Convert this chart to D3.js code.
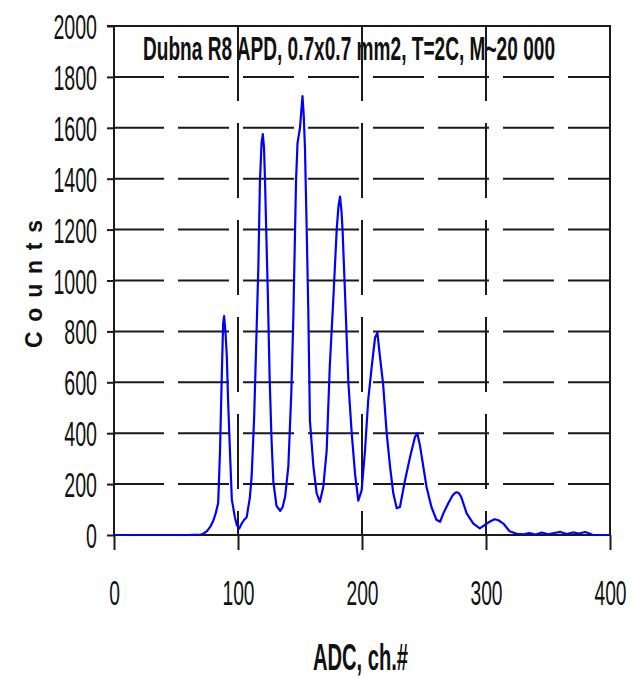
<!DOCTYPE html>
<html><head><meta charset="utf-8">
<script src="https://cdn.jsdelivr.net/npm/d3@7"></script>
<style>body{margin:0;background:#fff}svg{display:block}</style>
</head><body>
<script>
// ---- data ----
const title = "Dubna R8 APD, 0.7x0.7 mm2, T=2C, M~20 000";
const xTitle = "ADC, ch.#";
const yTitle = "Counts";
const xTicks = [0, 100, 200, 300, 400];
const yTicks = [0, 200, 400, 600, 800, 1000, 1200, 1400, 1600, 1800, 2000];
const adc = [0,10,20,30,40,50,60,70,72,75,78,80,82,84,85.5,86.8,88,88.8,90,91,92,93.5,95,97.5,99,101,103,105,107,109.5,111,113,114.5,116.4,117.7,119,120,121,121.8,123,124,125.5,127,128.5,131,134,136,138,140.6,143,144.6,146.8,148,150,152,153,154,155.4,156.7,158,160.8,163.4,166,168.8,171.5,174,176.9,179.6,181,182.3,183.5,184.4,186.3,189,191.7,194.4,197,199.7,202.4,205,207.8,210.5,212.4,214.5,217,219.9,222.6,225.2,228,230.6,234.7,238.7,242.7,244.6,246.8,249.4,252,256,260,263,265.6,269.6,273,275,276.3,278,280,284.4,289.8,295,300.6,304,307,310,314,319,324.8,330,335,340,345,350,355,360,365,370,375,380,384,386,400];
const counts = [0,0,0,0,0,0,0,2,5,15,35,55,85,125,330,600,830,860,790,700,530,330,140,70,40,25,45,60,70,145,230,460,720,1050,1390,1540,1575,1520,1390,1150,960,620,380,210,115,95,110,150,270,560,850,1390,1540,1600,1725,1650,1520,1200,880,450,270,165,130,190,330,660,930,1200,1290,1330,1270,1190,950,600,400,240,135,175,330,530,660,775,795,700,595,400,270,165,105,110,215,305,385,400,350,270,190,110,60,52,85,125,155,165,168,165,150,85,45,26,45,55,62,58,45,15,5,3,8,2,10,3,8,12,4,10,6,12,5,0,0];

// ---- layout ----
const W = 631, H = 678;
const svg = d3.select("body").append("svg").attr("width", W).attr("height", H);
const x = d3.scaleLinear().domain([0, 400]).range([114, 610]);
const y = d3.scaleLinear().domain([0, 2000]).range([535, 26]);
const ink = "#1a1a1a";

// title (under gridlines)
svg.append("text").attr("x", 143).attr("y", 60)
  .attr("font-family", "Liberation Sans, Arial, sans-serif").attr("font-weight", "bold")
  .attr("font-size", 33).attr("fill", "#111")
  .attr("textLength", 412).attr("lengthAdjust", "spacingAndGlyphs")
  .text(title);

// horizontal dashed gridlines
svg.append("g").selectAll("line").data(yTicks.filter(d => d > 0 && d < 2000)).join("line")
  .attr("x1", x(0)).attr("x2", x(400)).attr("y1", d => y(d)).attr("y2", d => y(d))
  .attr("stroke", ink).attr("stroke-width", 2).attr("stroke-dasharray", "51,14")
  .attr("stroke-dashoffset", 1);
// vertical dashed gridlines
svg.append("g").selectAll("line").data(xTicks.filter(d => d > 0 && d < 400)).join("line")
  .attr("x1", d => x(d)).attr("x2", d => x(d)).attr("y1", y(2000)).attr("y2", y(0))
  .attr("stroke", ink).attr("stroke-width", 2).attr("stroke-dasharray", "75,22");

// axes
const yAxis = d3.axisLeft(y).tickValues(yTicks).tickSize(7).tickFormat(d3.format("d"));
const gy = svg.append("g").attr("transform", `translate(${x(0)},0)`).call(yAxis);
const xAxis = d3.axisBottom(x).tickValues(xTicks).tickSize(15).tickFormat(d3.format("d"));
const gx = svg.append("g").attr("transform", `translate(0,${y(0)})`).call(xAxis);
[gx, gy].forEach(g => {
  g.select(".domain").attr("stroke", ink).attr("stroke-width", 2);
  g.selectAll(".tick line").attr("stroke", ink).attr("stroke-width", 2);
  g.selectAll(".tick text").attr("font-family", "Liberation Sans, Arial, sans-serif")
    .attr("font-size", 35).attr("fill", "#111");
});
gy.select(".domain").attr("d", `M0,${y(0)}V${y(2000)}`);
gx.select(".domain").attr("d", `M${x(0)},0H${x(400)}`);
gy.selectAll(".tick text").attr("x", null).attr("dy", null)
  .attr("text-anchor", "end")
  .attr("transform", "translate(-17,12.5) scale(0.56,1)");
gx.selectAll(".tick text").attr("y", null).attr("dy", null)
  .attr("text-anchor", "middle")
  .attr("transform", "translate(0,70) scale(0.55,1)");

// frame top and right
svg.append("path").attr("d", `M${x(0)-7},${y(2000)}H${x(400)}V${y(0)}`)
  .attr("fill", "none").attr("stroke", ink).attr("stroke-width", 2);

// curve
const pts = adc.map((a, i) => [a, counts[i]]);
svg.append("path").datum(pts)
  .attr("fill", "none").attr("stroke", "#0000ff").attr("stroke-width", 2.2)
  .attr("stroke-linejoin", "round")
  .attr("d", d3.line().x(d => x(d[0])).y(d => y(d[1])).curve(d3.curveLinear));

// axis titles
svg.append("text").attr("x", 360.5).attr("y", 670).attr("text-anchor", "middle")
  .attr("font-family", "Liberation Sans, Arial, sans-serif").attr("font-weight", "bold")
  .attr("font-size", 37).attr("fill", "#111")
  .attr("textLength", 95).attr("lengthAdjust", "spacingAndGlyphs")
  .text(xTitle);
svg.append("text").attr("transform", "translate(42,284) rotate(-90)").attr("text-anchor", "middle")
  .attr("font-family", "Liberation Sans, Arial, sans-serif").attr("font-weight", "bold")
  .attr("font-size", 23).attr("fill", "#111")
  .attr("textLength", 128).attr("lengthAdjust", "spacing")
  .text(yTitle);
</script>
</body></html>
